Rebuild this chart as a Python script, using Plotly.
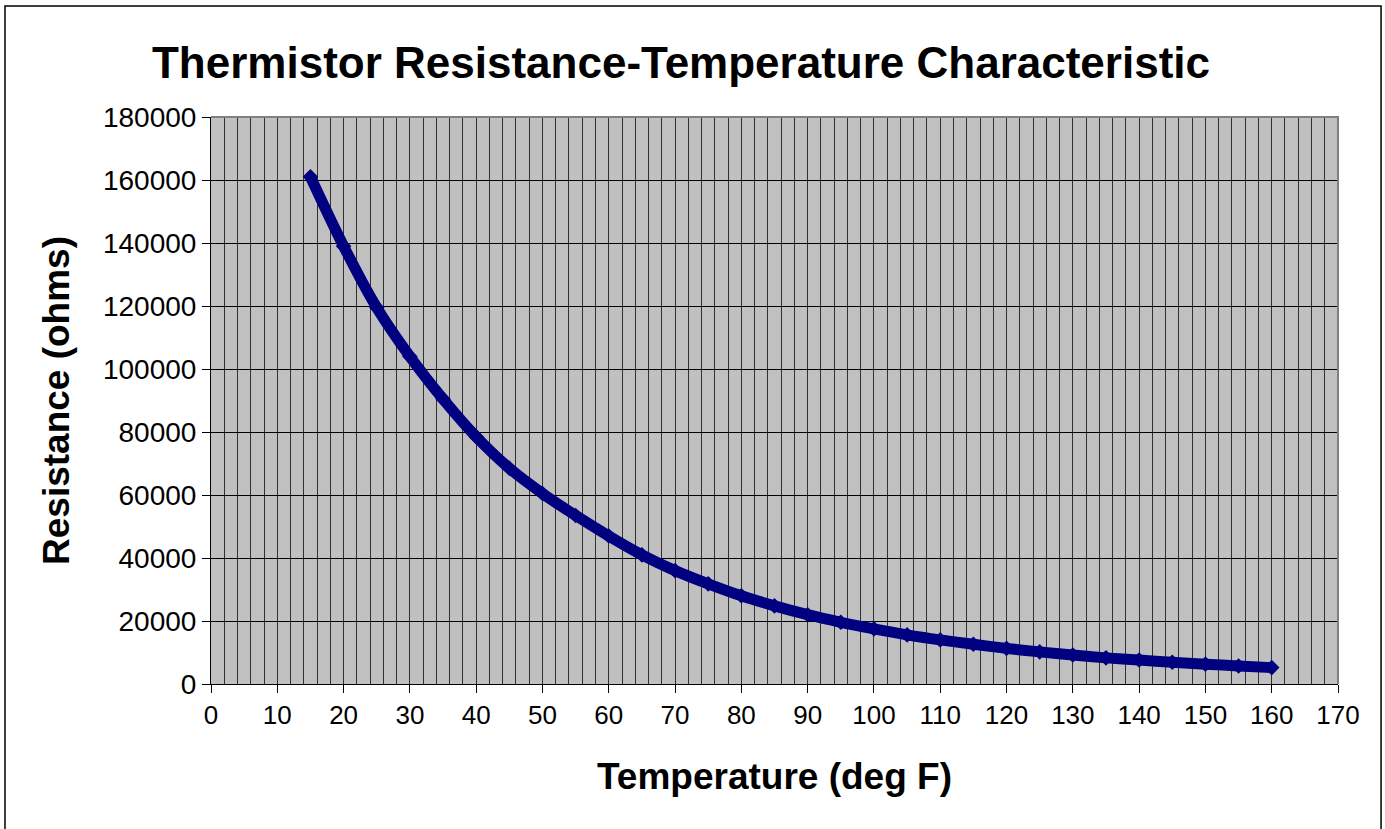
import plotly.graph_objects as go

# Thermistor readings: temperature (deg F) and resistance (ohms)
temp_f = [15, 20, 25, 30, 35, 40, 45, 50, 55, 60, 65, 70, 75, 80, 85, 90,
          95, 100, 105, 110, 115, 120, 125, 130, 135, 140, 145, 150, 155, 160]
resistance = [161000, 139000, 119500, 104000, 90500, 78500, 68500, 60500,
              53500, 47000, 41000, 36000, 31800, 28000, 24800, 22000,
              19600, 17500, 15600, 14000, 12600, 11300, 10200, 9200, 8300,
              7600, 6900, 6300, 5700, 5200]

x_ticks = list(range(0, 171, 10))
y_ticks = list(range(0, 180001, 20000))

FONT = "Arial, 'Liberation Sans', sans-serif"
NAVY = "#000080"

fig = go.Figure()
fig.add_trace(go.Scatter(
    x=temp_f, y=resistance,
    mode="lines+markers",
    line=dict(color=NAVY, width=11, shape="spline", smoothing=0.8),
    marker=dict(symbol="diamond", size=12, color=NAVY),
    showlegend=False,
))

fig.update_layout(
    width=1385, height=829,
    margin=dict(l=211, r=47, t=117, b=145),
    paper_bgcolor="white",
    plot_bgcolor="#C0C0C0",
    font=dict(family=FONT, color="black"),
    title=dict(
        text="<b>Thermistor Resistance-Temperature Characteristic</b>",
        font=dict(size=44, family=FONT, color="black"),
        x=0.4917, xref="container", xanchor="center",
        y=0.924, yref="container", yanchor="middle",
    ),
    xaxis=dict(
        range=[0, 170],
        tickvals=x_ticks,
        ticks="outside", ticklen=8, tickcolor="black", tickwidth=1,
        tickfont=dict(size=26),
        showline=True, linecolor="black", linewidth=1,
        showgrid=True, gridcolor="#303030", gridwidth=1,
        minor=dict(dtick=2, showgrid=True, gridcolor="#303030", gridwidth=1, ticks=""),
        zeroline=False,
        title=dict(text="<b>Temperature (deg F)</b>", font=dict(size=37), standoff=33),
    ),
    yaxis=dict(
        range=[0, 180000],
        tickvals=y_ticks, tickformat="d",
        ticks="outside", ticklen=8, tickcolor="black", tickwidth=1,
        tickfont=dict(size=28),
        showline=True, linecolor="black", linewidth=1,
        showgrid=True, gridcolor="black", gridwidth=1,
        zeroline=False,
        title=dict(text="<b>Resistance (ohms)</b>", font=dict(size=37), standoff=22),
    ),
)

# Gray plot-area border on the top and right edges
fig.add_shape(type="path", xref="paper", yref="paper",
              path="M 0,1 L 1,1 L 1,0",
              line=dict(color="#808080", width=2), layer="above")

# Outer chart border
fig.add_shape(type="rect", xref="paper", yref="paper",
              x0=-0.1828, x1=1.0382, y0=-0.27, y1=1.1958,
              line=dict(color="black", width=1.5), layer="above")

fig.write_html("out.html")
